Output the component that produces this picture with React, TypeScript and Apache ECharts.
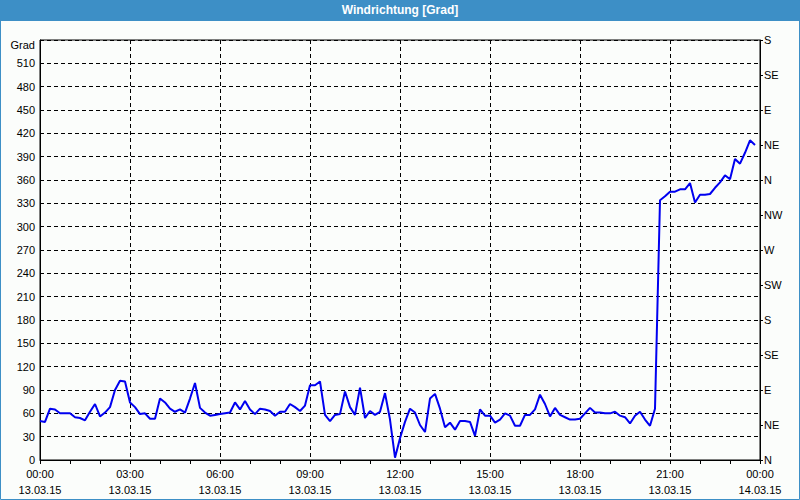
import React, { useEffect, useRef } from "react";
import * as echarts from "echarts";

const titleText = "Windrichtung [Grad]";
const yAxisName = "Grad";
const dayLabels = ["13.03.15", "14.03.15"];
const compassLabels = ["N", "NE", "E", "SE", "S", "SW", "W", "NW", "N", "NE", "E", "SE", "S"];
// wind direction in degrees, one reading every 10 minutes from 00:00
const directions = [
  50, 49, 66, 65, 60, 60, 60, 55, 54, 51,
  62, 72, 56, 61, 68, 90, 102, 101, 74, 68,
  59, 60, 53, 53, 79, 74, 66, 62, 65, 61,
  79, 99, 67, 61, 57, 58, 59, 60, 61, 74,
  65, 76, 65, 59, 66, 65, 63, 57, 62, 62,
  72, 68, 63, 70, 96, 96, 101, 58, 50, 58,
  59, 88, 68, 58, 93, 54, 63, 58, 62, 86,
  52, 3, 28, 49, 66, 61, 45, 36, 79, 85,
  66, 42, 48, 39, 50, 50, 49, 31, 65, 57,
  57, 48, 52, 60, 57, 44, 44, 58, 58, 65,
  84, 72, 56, 67, 58, 55, 52, 52, 53, 60,
  67, 61, 61, 60, 60, 62, 57, 55, 47, 57,
  62, 52, 44, 66, 334, 339, 345, 345, 348, 348,
  356, 331, 341, 341, 342, 350, 357, 366, 361, 387,
  381, 395, 411, 405,
];
const stepMinutes = 10;

const FONT = "'Liberation Sans', Arial, sans-serif";

export default function App() {
  const ref = useRef<HTMLDivElement>(null);
  useEffect(() => {
    if (!ref.current) return;
    const chart = echarts.init(ref.current, null, { renderer: "svg" });
    const seriesData = directions.map((v, i) => [i * stepMinutes, v]);
    chart.setOption({
      animation: false,
      backgroundColor: "#fbfdfb",
      textStyle: { fontFamily: FONT },
      graphic: [
        { type: "rect", shape: { x: 0, y: 0, width: 800, height: 21 }, style: { fill: "#3d8fc6" }, silent: true },
        { type: "rect", shape: { x: 0.5, y: 0.5, width: 799, height: 499 }, style: { fill: "none", stroke: "#3d8fc6", lineWidth: 1 }, silent: true },
        {
          type: "text",
          x: 400,
          y: 10,
          style: { text: titleText, fill: "#ffffff", font: `bold 12px ${FONT}`, align: "center", verticalAlign: "middle" },
        },
      ],
      grid: { left: 40, right: 40, top: 40, bottom: 40, show: true, borderColor: "#000", borderWidth: 1, backgroundColor: "transparent" },
      xAxis: {
        type: "value",
        min: 0,
        max: 1440,
        interval: 180,
        axisLine: { show: true, lineStyle: { color: "#000", width: 1 } },
        axisTick: { show: true, length: 4, lineStyle: { color: "#000" } },
        minorTick: { show: true, splitNumber: 3, length: 4, lineStyle: { color: "#000" } },
        splitLine: { show: true, lineStyle: { color: "#000", type: [4, 3], width: 1 } },
        axisLabel: {
          color: "#000",
          fontSize: 11,
          fontFamily: FONT,
          lineHeight: 16,
          margin: 6,
          formatter: (v: number) => {
            const h = Math.floor(v / 60) % 24;
            const hh = String(h).padStart(2, "0");
            return `${hh}:00\n${v >= 1440 ? dayLabels[1] : dayLabels[0]}`;
          },
        },
      },
      yAxis: [
        {
          type: "value",
          min: 0,
          max: 540,
          interval: 30,
          axisLine: { show: true, lineStyle: { color: "#000" } },
          axisTick: { show: false },
          splitLine: { show: true, lineStyle: { color: "#000", type: [4, 3], width: 1 } },
          axisLabel: {
            color: "#000",
            fontSize: 11,
            fontFamily: FONT,
            margin: 5,
            formatter: (v: number) => (v === 540 ? `{g|${yAxisName}}` : String(v)),
            rich: { g: { fontSize: 11, fontFamily: FONT, color: "#000", padding: [10, 0, 0, 0] } },
          },
        },
        {
          type: "value",
          position: "right",
          min: 0,
          max: 540,
          interval: 45,
          axisLine: { show: true, lineStyle: { color: "#000" } },
          axisTick: { show: true, length: 3, lineStyle: { color: "#000" } },
          splitLine: { show: false },
          axisLabel: {
            color: "#000",
            fontSize: 11,
            fontFamily: FONT,
            margin: 4,
            padding: [4, 0, 0, 0],
            formatter: (v: number) => compassLabels[Math.round(v / 45)] ?? "",
          },
        },
      ],
      series: [
        {
          type: "line",
          yAxisIndex: 0,
          data: seriesData,
          showSymbol: false,
          symbol: "none",
          lineStyle: { color: "#0000f0", width: 2 },
          itemStyle: { color: "#0000f0" },
        },
      ],
    });
    return () => chart.dispose();
  }, []);
  return (
    <div style={{ position: "fixed", left: 0, top: 0, width: 800, height: 500 }}>
      <div ref={ref} style={{ width: 800, height: 500 }} />
    </div>
  );
}
